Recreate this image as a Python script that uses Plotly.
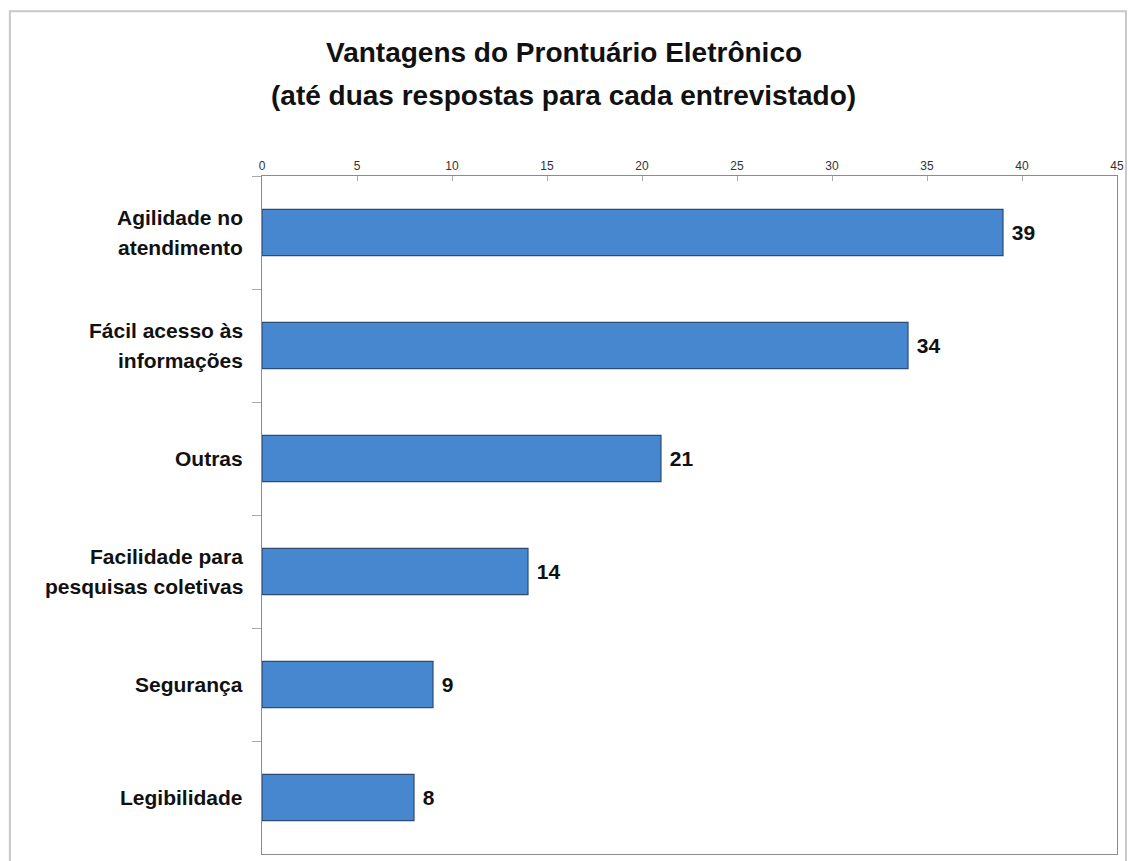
import plotly.graph_objects as go

categories = ["Agilidade no atendimento", "Fácil acesso às informações", "Outras",
              "Facilidade para pesquisas coletivas", "Segurança", "Legibilidade"]
label_lines = [["Agilidade no", "atendimento"], ["Fácil acesso às", "informações"], ["Outras"],
               ["Facilidade para", "pesquisas coletivas"], ["Segurança"], ["Legibilidade"]]
values = [39, 34, 21, 14, 9, 8]
x_ticks = [0, 5, 10, 15, 20, 25, 30, 35, 40, 45]

FONT = "Arial, Liberation Sans, sans-serif"

fig = go.Figure()
fig.add_trace(go.Bar(
    y=categories, x=values, orientation="h",
    marker=dict(color="#4787CF", line=dict(color="#2E4C73", width=1.2)),
    text=[str(v) for v in values], textposition="outside",
    textfont=dict(family=FONT, size=21, color="#111"),
    texttemplate="\u00a0<b>%{text}</b>", cliponaxis=False,
))

annotations = []
for cat, lines in zip(categories, label_lines):
    n = len(lines)
    for i, ln in enumerate(lines):
        shift = (n - 1) * 15 - i * 30
        annotations.append(dict(
            x=0, xref="paper", y=cat, yref="y", text="<b>%s</b>" % ln,
            xanchor="right", yanchor="middle", xshift=-17, yshift=shift,
            showarrow=False, font=dict(family=FONT, size=21, color="#111")))

for txt, ypx in [("Vantagens do Prontuário Eletrônico", 52),
                 ("(até duas respostas para cada entrevistado)", 95)]:
    annotations.append(dict(
        x=(565 - 262) / 858, xref="paper", xanchor="center",
        y=(861 - 6 - ypx) / 679, yref="paper", yanchor="middle",
        text="<b>%s</b>" % txt, showarrow=False,
        font=dict(family=FONT, size=28, color="#111")))

fig.update_layout(
    width=1130, height=861,
    margin=dict(l=262, r=10, t=176, b=6),
    paper_bgcolor="white", plot_bgcolor="white",
    showlegend=False, bargap=0.59,
    annotations=annotations,
    shapes=[dict(type="rect", xref="paper", yref="paper",
                 x0=(9 - 262) / 858, x1=(1129 - 262) / 858,
                 y0=(861 - 6 - 870) / 679, y1=(861 - 6 - 11) / 679,
                 line=dict(color="#C8C8C8", width=2), layer="below")],
    xaxis=dict(side="top", range=[0, 45], tickvals=x_ticks,
               ticktext=[str(t) for t in x_ticks],
               showgrid=False, zeroline=False,
               showline=True, linecolor="#8C8C8C", linewidth=1, mirror=True,
               ticks="inside", ticklen=5, tickcolor="#AAAAAA",
               tickfont=dict(family=FONT, size=12, color="#333")),
    yaxis=dict(autorange="reversed", showgrid=False, zeroline=False,
               showline=True, linecolor="#8C8C8C", linewidth=1, mirror=True,
               tickson="boundaries", ticks="outside", ticklen=9, tickcolor="#AAAAAA",
               showticklabels=False),
)

fig.write_html("out.html")
